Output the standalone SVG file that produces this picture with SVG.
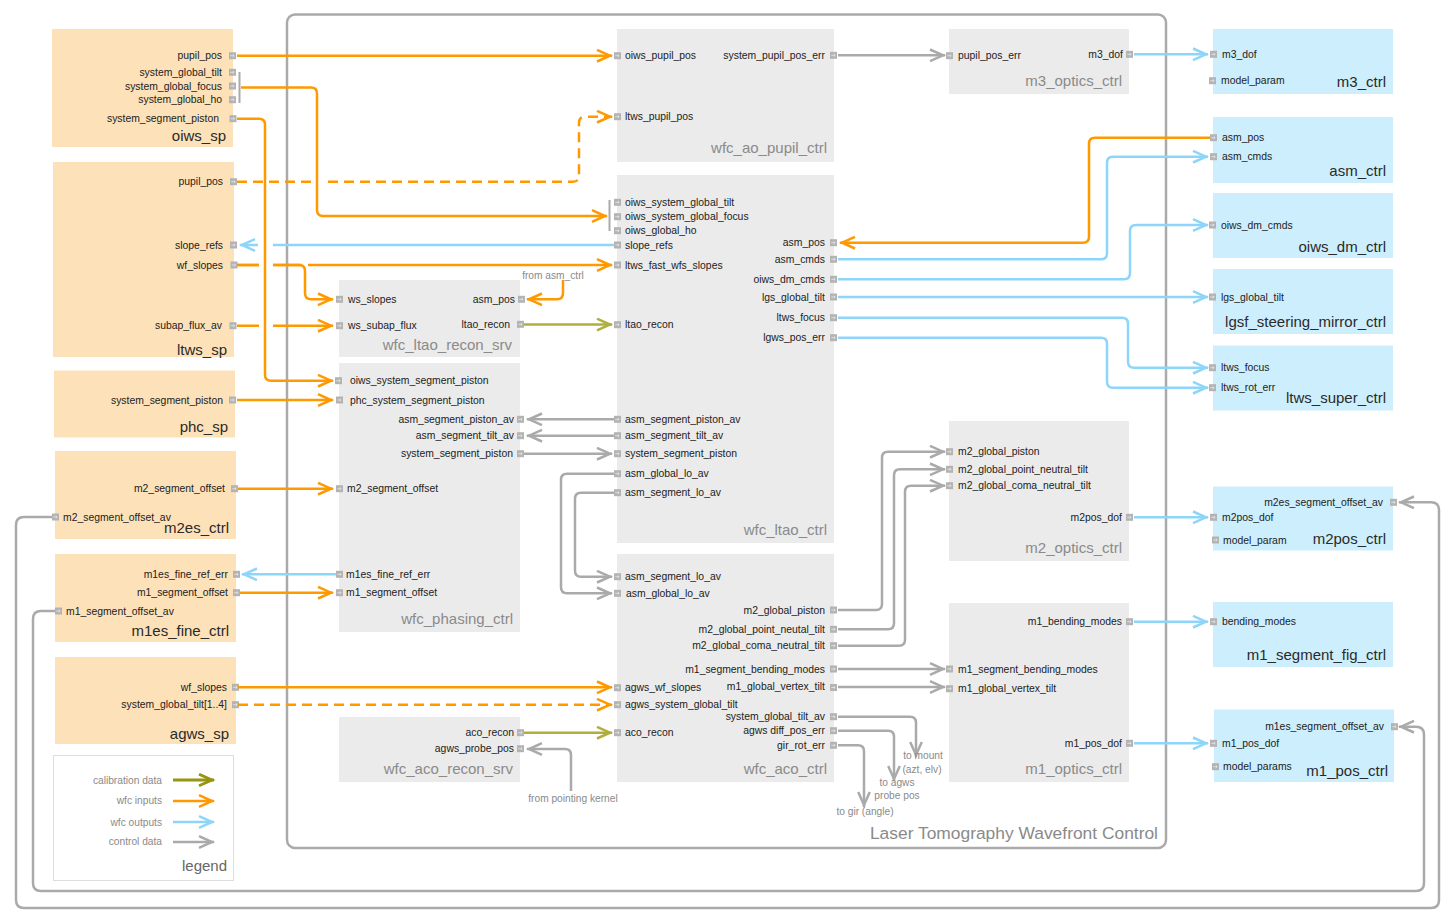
<svg xmlns="http://www.w3.org/2000/svg" xmlns:xlink="http://www.w3.org/1999/xlink" width="1454" height="923" viewBox="0 0 1454 923">
<style>
  text { font-family: "Liberation Sans", Arial, Helvetica, sans-serif; }
  .lbl { font-size: 10.4px; fill: #222; }
  .r { text-anchor: end; }
  .m { text-anchor: middle; }
  .ann { font-size: 10.2px; fill: #8a8a8a; }
  .ttl { font-size: 15px; fill: #2a2a2a; text-anchor: end; }
  .gttl { font-size: 15px; fill: #8a8a8a; text-anchor: end; }
  .src { fill: #fde1b8; }
  .ext { fill: #cdeefc; }
  .int { fill: #ebebeb; }
  .e { fill: none; stroke-width: 2.5; }
  .o { stroke: #ff9900; marker-end: url(#ao); }
  .b { stroke: #8dd6fa; marker-end: url(#ab); }
  .g { stroke: #aaaaaa; marker-end: url(#ag); }
  .v { stroke: #b0ae3c; marker-end: url(#av); }
  .d { stroke-dasharray: 10 6; }
</style>
<defs>
  <marker id="ao" markerUnits="userSpaceOnUse" markerWidth="20" markerHeight="16" refX="17" refY="7" orient="auto"><path d="M2,1.2 L15,7 L2,12.8" fill="none" stroke="#ff9900" stroke-width="2.5"/></marker>
  <marker id="ab" markerUnits="userSpaceOnUse" markerWidth="20" markerHeight="16" refX="17" refY="7" orient="auto"><path d="M2,1.2 L15,7 L2,12.8" fill="none" stroke="#8dd6fa" stroke-width="2.5"/></marker>
  <marker id="ag" markerUnits="userSpaceOnUse" markerWidth="20" markerHeight="16" refX="17" refY="7" orient="auto"><path d="M2,1.2 L15,7 L2,12.8" fill="none" stroke="#aaaaaa" stroke-width="2.5"/></marker>
  <marker id="av" markerUnits="userSpaceOnUse" markerWidth="20" markerHeight="16" refX="17" refY="7" orient="auto"><path d="M2,1.2 L15,7 L2,12.8" fill="none" stroke="#b0ae3c" stroke-width="2.5"/></marker>
  <marker id="avd" markerUnits="userSpaceOnUse" markerWidth="20" markerHeight="16" refX="17" refY="7" orient="auto"><path d="M2,1.2 L15,7 L2,12.8" fill="none" stroke="#95950f" stroke-width="2.8"/></marker>
  <g id="pt">
    <rect width="7" height="7" fill="#b3b3b3"/>
    <path d="M1.3,3.5 H5 M3.8,2.2 L5.2,3.5 L3.8,4.8" fill="none" stroke="#e4e4e4" stroke-width="0.9"/>
  </g>
</defs>

<rect width="1454" height="923" fill="#ffffff"/>

<!-- enclosing subsystem frame -->
<g id="ltwfc">
  <rect x="287" y="14.5" width="879" height="833.5" rx="8" fill="none" stroke="#aaaaaa" stroke-width="2.5"/>
  <text x="1158" y="839" font-size="17.4" fill="#8a8a8a" text-anchor="end">Laser Tomography Wavefront Control</text>
</g>

<!-- source nodes (left) -->
<g id="oiws_sp">
  <rect class="src" x="52" y="29" width="181" height="118"/>
  <text class="lbl r" x="222" y="59.3">pupil_pos</text>
  <text class="lbl r" x="222" y="75.9">system_global_tilt</text>
  <text class="lbl r" x="222" y="89.6">system_global_focus</text>
  <text class="lbl r" x="222" y="103.3">system_global_ho</text>
  <text class="lbl r" x="219" y="122.3">system_segment_piston</text>
  <use href="#pt" x="229" y="52.2"/><use href="#pt" x="229" y="68.8"/><use href="#pt" x="229" y="82.5"/><use href="#pt" x="229" y="96.2"/><use href="#pt" x="229.5" y="115.2"/>
  <line x1="239.5" y1="72" x2="239.5" y2="103" stroke="#aaaaaa" stroke-width="2"/>
  <text class="ttl" x="226" y="141">oiws_sp</text>
</g>
<g id="ltws_sp">
  <rect class="src" x="53" y="162" width="181" height="195"/>
  <text class="lbl r" x="223" y="185.3">pupil_pos</text>
  <text class="lbl r" x="223" y="248.6">slope_refs</text>
  <text class="lbl r" x="223" y="268.6">wf_slopes</text>
  <text class="lbl r" x="222" y="329.3">subap_flux_av</text>
  <use href="#pt" x="230" y="178.2"/><use href="#pt" x="230" y="241.5"/><use href="#pt" x="230.5" y="261.5"/><use href="#pt" x="229.5" y="322.2"/>
  <text class="ttl" x="227" y="355">ltws_sp</text>
</g>
<g id="phc_sp">
  <rect class="src" x="54" y="370.5" width="181" height="67"/>
  <text class="lbl r" x="223" y="403.6">system_segment_piston</text>
  <use href="#pt" x="229" y="396.5"/>
  <text class="ttl" x="228" y="432">phc_sp</text>
</g>
<g id="m2es_ctrl">
  <rect class="src" x="55" y="451" width="181" height="88"/>
  <text class="lbl r" x="225" y="492.3">m2_segment_offset</text>
  <use href="#pt" x="231" y="485.2"/>
  <use href="#pt" x="52" y="513.5"/>
  <text class="lbl" x="63" y="520.6">m2_segment_offset_av</text>
  <text class="ttl" x="229" y="533">m2es_ctrl</text>
</g>
<g id="m1es_fine_ctrl">
  <rect class="src" x="55" y="554" width="181" height="88"/>
  <text class="lbl r" x="228" y="577.9">m1es_fine_ref_err</text>
  <text class="lbl r" x="228" y="596.3">m1_segment_offset</text>
  <use href="#pt" x="233" y="570.8"/><use href="#pt" x="233" y="589.2"/>
  <use href="#pt" x="55" y="607.5"/>
  <text class="lbl" x="66" y="614.6">m1_segment_offset_av</text>
  <text class="ttl" x="229" y="636">m1es_fine_ctrl</text>
</g>
<g id="agws_sp">
  <rect class="src" x="55" y="657" width="181" height="87"/>
  <text class="lbl r" x="227" y="690.9">wf_slopes</text>
  <text class="lbl r" x="227" y="708.3">system_global_tilt[1..4]</text>
  <use href="#pt" x="232" y="683.8"/><use href="#pt" x="232" y="701.2"/>
  <text class="ttl" x="229" y="739">agws_sp</text>
</g>

<!-- legend -->
<g id="legend">
  <rect x="53.5" y="755.5" width="180" height="125" fill="#ffffff" stroke="#dddddd" stroke-width="1"/>
  <text class="ann r" x="162" y="783.6">calibration data</text>
  <text class="ann r" x="162" y="804.3">wfc inputs</text>
  <text class="ann r" x="162" y="825.6">wfc outputs</text>
  <text class="ann r" x="162" y="845.3">control data</text>
  <path d="M173,780 H214" fill="none" stroke="#95950f" stroke-width="2.8" marker-end="url(#avd)"/>
  <path class="e o" d="M173,801 H214"/>
  <path class="e b" d="M173,822 H214"/>
  <path class="e g" d="M173,842 H214"/>
  <text x="227" y="871" font-size="15" fill="#666666" text-anchor="end">legend</text>
</g>

<!-- internal components -->
<g id="wfc_ao_pupil_ctrl">
  <rect class="int" x="617" y="29" width="217" height="133"/>
  <use href="#pt" x="614" y="52.2"/><text class="lbl" x="625" y="59.3">oiws_pupil_pos</text>
  <use href="#pt" x="614" y="113.2"/><text class="lbl" x="625" y="120.3">ltws_pupil_pos</text>
  <use href="#pt" x="830" y="51.8"/><text class="lbl r" x="825" y="58.9">system_pupil_pos_err</text>
  <text class="gttl" x="827" y="153">wfc_ao_pupil_ctrl</text>
</g>
<g id="m3_optics_ctrl">
  <rect class="int" x="949" y="29" width="180" height="65"/>
  <use href="#pt" x="946" y="52.2"/><text class="lbl" x="958" y="59.3">pupil_pos_err</text>
  <use href="#pt" x="1126" y="50.8"/><text class="lbl r" x="1123" y="57.9">m3_dof</text>
  <text class="gttl" x="1122" y="86">m3_optics_ctrl</text>
</g>
<g id="wfc_ltao_ctrl">
  <rect class="int" x="617" y="175" width="217" height="368"/>
  <line x1="609.5" y1="200" x2="609.5" y2="231" stroke="#aaaaaa" stroke-width="2"/>
  <use href="#pt" x="614" y="198.8"/><text class="lbl" x="625" y="205.9">oiws_system_global_tilt</text>
  <use href="#pt" x="614" y="213.2"/><text class="lbl" x="625" y="220.3">oiws_system_global_focus</text>
  <use href="#pt" x="614" y="227.2"/><text class="lbl" x="625" y="234.3">oiws_global_ho</text>
  <use href="#pt" x="614" y="241.5"/><text class="lbl" x="625" y="248.6">slope_refs</text>
  <use href="#pt" x="614" y="261.5"/><text class="lbl" x="625" y="268.6">ltws_fast_wfs_slopes</text>
  <use href="#pt" x="614" y="321.2"/><text class="lbl" x="625" y="328.3">ltao_recon</text>
  <use href="#pt" x="614" y="415.8"/><text class="lbl" x="625" y="422.9">asm_segment_piston_av</text>
  <use href="#pt" x="614" y="432.2"/><text class="lbl" x="625" y="439.3">asm_segment_tilt_av</text>
  <use href="#pt" x="614" y="450.2"/><text class="lbl" x="625" y="457.3">system_segment_piston</text>
  <use href="#pt" x="614" y="470.2"/><text class="lbl" x="625" y="477.3">asm_global_lo_av</text>
  <use href="#pt" x="614" y="489.2"/><text class="lbl" x="625" y="496.3">asm_segment_lo_av</text>
  <use href="#pt" x="830" y="239.2"/><text class="lbl r" x="825" y="246.3">asm_pos</text>
  <use href="#pt" x="830" y="255.8"/><text class="lbl r" x="825" y="262.9">asm_cmds</text>
  <use href="#pt" x="830" y="275.8"/><text class="lbl r" x="825" y="282.9">oiws_dm_cmds</text>
  <use href="#pt" x="830" y="293.5"/><text class="lbl r" x="825" y="300.6">lgs_global_tilt</text>
  <use href="#pt" x="830" y="314.2"/><text class="lbl r" x="825" y="321.3">ltws_focus</text>
  <use href="#pt" x="830" y="334.2"/><text class="lbl r" x="825" y="341.3">lgws_pos_err</text>
  <text class="gttl" x="827" y="535">wfc_ltao_ctrl</text>
</g>
<g id="wfc_aco_ctrl">
  <rect class="int" x="617" y="554" width="217" height="228"/>
  <use href="#pt" x="614" y="573.2"/><text class="lbl" x="625" y="580.3">asm_segment_lo_av</text>
  <use href="#pt" x="614" y="589.8"/><text class="lbl" x="626" y="596.9">asm_global_lo_av</text>
  <use href="#pt" x="614" y="684.2"/><text class="lbl" x="625" y="691.3">agws_wf_slopes</text>
  <use href="#pt" x="614" y="701.2"/><text class="lbl" x="625" y="708.3">agws_system_global_tilt</text>
  <use href="#pt" x="614" y="729.2"/><text class="lbl" x="625" y="736.3">aco_recon</text>
  <use href="#pt" x="830" y="606.5"/><text class="lbl r" x="825" y="613.6">m2_global_piston</text>
  <use href="#pt" x="830" y="625.8"/><text class="lbl r" x="825" y="632.9">m2_global_point_neutal_tilt</text>
  <use href="#pt" x="830" y="642.2"/><text class="lbl r" x="825" y="649.3">m2_global_coma_neutral_tilt</text>
  <use href="#pt" x="830" y="665.5"/><text class="lbl r" x="825" y="672.6">m1_segment_bending_modes</text>
  <use href="#pt" x="830" y="684"/><text class="lbl r" x="825" y="689.6">m1_global_vertex_tilt</text>
  <use href="#pt" x="830" y="713.2"/><text class="lbl r" x="825" y="720.3">system_global_tilt_av</text>
  <use href="#pt" x="830" y="727.2"/><text class="lbl r" x="825" y="734.3">agws diff_pos_err</text>
  <use href="#pt" x="830" y="741.8"/><text class="lbl r" x="825" y="748.9">gir_rot_err</text>
  <text class="gttl" x="827" y="774">wfc_aco_ctrl</text>
</g>
<g id="wfc_ltao_recon_srv">
  <rect class="int" x="339" y="280" width="181" height="77"/>
  <use href="#pt" x="336" y="295.8"/><text class="lbl" x="348" y="302.9">ws_slopes</text>
  <use href="#pt" x="336" y="322.2"/><text class="lbl" x="348" y="329.3">ws_subap_flux</text>
  <use href="#pt" x="518" y="295.8"/><text class="lbl r" x="515" y="302.9">asm_pos</text>
  <use href="#pt" x="517" y="320.8"/><text class="lbl r" x="510" y="327.9">ltao_recon</text>
  <text class="gttl" x="512" y="349.5">wfc_ltao_recon_srv</text>
</g>
<g id="wfc_phasing_ctrl">
  <rect class="int" x="339" y="363" width="181" height="269"/>
  <use href="#pt" x="335" y="377.2"/><text class="lbl" x="350" y="384.3">oiws_system_segment_piston</text>
  <use href="#pt" x="336" y="396.5"/><text class="lbl" x="350" y="403.6">phc_system_segment_piston</text>
  <use href="#pt" x="336" y="485.2"/><text class="lbl" x="347" y="492.3">m2_segment_offset</text>
  <use href="#pt" x="336" y="570.8"/><text class="lbl" x="346" y="577.9">m1es_fine_ref_err</text>
  <use href="#pt" x="336" y="589.2"/><text class="lbl" x="346" y="596.3">m1_segment_offset</text>
  <use href="#pt" x="517" y="415.8"/><text class="lbl r" x="514" y="422.9">asm_segment_piston_av</text>
  <use href="#pt" x="517" y="432.2"/><text class="lbl r" x="514" y="439.3">asm_segment_tilt_av</text>
  <use href="#pt" x="517" y="450.2"/><text class="lbl r" x="513" y="457.3">system_segment_piston</text>
  <text class="gttl" x="513" y="624">wfc_phasing_ctrl</text>
</g>
<g id="wfc_aco_recon_srv">
  <rect class="int" x="339" y="717" width="181" height="65"/>
  <use href="#pt" x="517" y="729.2"/><text class="lbl r" x="514" y="736.3">aco_recon</text>
  <use href="#pt" x="517" y="745.2"/><text class="lbl r" x="514" y="752.3">agws_probe_pos</text>
  <text class="gttl" x="513" y="774">wfc_aco_recon_srv</text>
</g>
<g id="m2_optics_ctrl">
  <rect class="int" x="949" y="421" width="180" height="140"/>
  <use href="#pt" x="946" y="448.2"/><text class="lbl" x="958" y="455.3">m2_global_piston</text>
  <use href="#pt" x="946" y="465.8"/><text class="lbl" x="958" y="472.9">m2_global_point_neutral_tilt</text>
  <use href="#pt" x="946" y="482.2"/><text class="lbl" x="958" y="489.3">m2_global_coma_neutral_tilt</text>
  <use href="#pt" x="1126" y="513.8"/><text class="lbl r" x="1122" y="520.9">m2pos_dof</text>
  <text class="gttl" x="1122" y="553">m2_optics_ctrl</text>
</g>
<g id="m1_optics_ctrl">
  <rect class="int" x="949" y="603" width="180" height="179"/>
  <use href="#pt" x="1126" y="618.2"/><text class="lbl r" x="1122" y="625.3">m1_bending_modes</text>
  <use href="#pt" x="946" y="665.5"/><text class="lbl" x="958" y="672.6">m1_segment_bending_modes</text>
  <use href="#pt" x="946" y="685.2"/><text class="lbl" x="958" y="692.3">m1_global_vertex_tilt</text>
  <use href="#pt" x="1126" y="739.8"/><text class="lbl r" x="1122" y="746.9">m1_pos_dof</text>
  <text class="gttl" x="1122" y="774">m1_optics_ctrl</text>
</g>

<!-- external controllers (right) -->
<g id="m3_ctrl">
  <rect class="ext" x="1213" y="29" width="180" height="65"/>
  <use href="#pt" x="1210" y="50.8"/><text class="lbl" x="1222" y="57.9">m3_dof</text>
  <use href="#pt" x="1209" y="77.2"/><text class="lbl" x="1221" y="84.3">model_param</text>
  <text class="ttl" x="1386" y="87">m3_ctrl</text>
</g>
<g id="asm_ctrl">
  <rect class="ext" x="1213" y="117" width="180" height="66"/>
  <use href="#pt" x="1210" y="134.2"/><text class="lbl" x="1222" y="141.3">asm_pos</text>
  <use href="#pt" x="1210" y="153.2"/><text class="lbl" x="1222" y="160.3">asm_cmds</text>
  <text class="ttl" x="1386" y="176">asm_ctrl</text>
</g>
<g id="oiws_dm_ctrl">
  <rect class="ext" x="1213" y="193" width="180" height="65"/>
  <use href="#pt" x="1209" y="221.5"/><text class="lbl" x="1221" y="228.6">oiws_dm_cmds</text>
  <text class="ttl" x="1386" y="252">oiws_dm_ctrl</text>
</g>
<g id="lgsf_steering_mirror_ctrl">
  <rect class="ext" x="1213" y="269" width="180" height="65"/>
  <use href="#pt" x="1209" y="293.5"/><text class="lbl" x="1221" y="300.6">lgs_global_tilt</text>
  <text class="ttl" x="1386" y="327">lgsf_steering_mirror_ctrl</text>
</g>
<g id="ltws_super_ctrl">
  <rect class="ext" x="1213" y="345.5" width="180" height="65"/>
  <use href="#pt" x="1209" y="364.2"/><text class="lbl" x="1221" y="371.3">ltws_focus</text>
  <use href="#pt" x="1209" y="384.2"/><text class="lbl" x="1221" y="391.3">ltws_rot_err</text>
  <text class="ttl" x="1386" y="403">ltws_super_ctrl</text>
</g>
<g id="m2pos_ctrl">
  <rect class="ext" x="1213" y="486.5" width="180" height="64"/>
  <use href="#pt" x="1390" y="498.8"/><text class="lbl r" x="1383" y="505.9">m2es_segment_offset_av</text>
  <use href="#pt" x="1210" y="513.8"/><text class="lbl" x="1222" y="520.9">m2pos_dof</text>
  <use href="#pt" x="1212" y="536.5"/><text class="lbl" x="1223" y="543.6">model_param</text>
  <text class="ttl" x="1386" y="544">m2pos_ctrl</text>
</g>
<g id="m1_segment_fig_ctrl">
  <rect class="ext" x="1213" y="602" width="180" height="65"/>
  <use href="#pt" x="1210" y="618.2"/><text class="lbl" x="1222" y="625.3">bending_modes</text>
  <text class="ttl" x="1386" y="660">m1_segment_fig_ctrl</text>
</g>
<g id="m1_pos_ctrl">
  <rect class="ext" x="1214" y="709.5" width="180" height="72.5"/>
  <use href="#pt" x="1391" y="723.2"/><text class="lbl r" x="1384" y="730.3">m1es_segment_offset_av</text>
  <use href="#pt" x="1210" y="739.8"/><text class="lbl" x="1222" y="746.9">m1_pos_dof</text>
  <use href="#pt" x="1212" y="763.2"/><text class="lbl" x="1223" y="770.3">model_params</text>
  <text class="ttl" x="1388" y="776">m1_pos_ctrl</text>
</g>

<!-- connectors -->
<g id="connectors">
  <!-- wfc inputs -->
  <path class="e o" d="M237,55.7 H612"/>
  <path class="e o" d="M241,87.5 H311 Q317,87.5 317,93.5 V210 Q317,216 323,216 H607"/>
  <path class="e o" d="M237,118.7 H259 Q265,118.7 265,124.7 V374.7 Q265,380.7 271,380.7 H333"/>
  <path class="e o d" d="M237,181.7 H311 M328,181.7 H573 Q579,181.7 579,175.7 V122.7 Q579,116.7 585,116.7 H612"/>
  <path class="e o" d="M237,265 H259 M273,265 H299 Q305,265 305,271 V293.3 Q305,299.3 311,299.3 H333"/>
  <path class="e o" d="M237,265 H259 M273,265 H302 M308,265 H612"/>
  <path class="e o" d="M237,325.7 H259 M273,325.7 H333"/>
  <path class="e o" d="M237,400 H333"/>
  <path class="e o" d="M238,488.7 H333"/>
  <path class="e o" d="M240,592.7 H333"/>
  <path class="e o" d="M238,687.3 H612"/>
  <path class="e o d" d="M238,704.7 H612"/>
  <path class="e o" d="M1210,137.7 H1095 Q1089,137.7 1089,143.7 V236.7 Q1089,242.7 1083,242.7 H840"/>
  <path class="e o" d="M563,280 V293.3 Q563,299.3 557,299.3 H527"/>
  <text class="ann m" x="553" y="278.6">from asm_ctrl</text>

  <!-- wfc outputs -->
  <path class="e b" d="M614,245 H273 M258,245 H240"/>
  <path class="e b" d="M336,574.3 H242"/>
  <path class="e b" d="M1134,54.3 H1208"/>
  <path class="e b" d="M838,259.3 H1101 Q1107,259.3 1107,253.3 V162.7 Q1107,156.7 1113,156.7 H1208"/>
  <path class="e b" d="M838,279.3 H1124 Q1130,279.3 1130,273.3 V231 Q1130,225 1136,225 H1208"/>
  <path class="e b" d="M838,297 H1208"/>
  <path class="e b" d="M838,317.7 H1122 Q1128,317.7 1128,323.7 V361.7 Q1128,367.7 1134,367.7 H1208"/>
  <path class="e b" d="M838,337.7 H1101 Q1107,337.7 1107,343.7 V381.7 Q1107,387.7 1113,387.7 H1208"/>
  <path class="e b" d="M1134,517.3 H1208"/>
  <path class="e b" d="M1134,621.7 H1208"/>
  <path class="e b" d="M1134,743.3 H1208"/>

  <!-- calibration data -->
  <path class="e v" d="M524,324.5 H612"/>
  <path class="e v" d="M524,732.7 H612"/>

  <!-- control data -->
  <path class="e g" d="M838,55.3 H945"/>
  <path class="e g" d="M614,419.3 H527"/>
  <path class="e g" d="M614,435.7 H527"/>
  <path class="e g" d="M524,453.7 H612"/>
  <path class="e g" d="M614,473.7 H567 Q561,473.7 561,479.7 V587.3 Q561,593.3 567,593.3 H612"/>
  <path class="e g" d="M614,492.7 H581 Q575,492.7 575,498.7 V570.7 Q575,576.7 581,576.7 H612"/>
  <path class="e g" d="M838,610 H876 Q882,610 882,604 V457.7 Q882,451.7 888,451.7 H945"/>
  <path class="e g" d="M838,629.3 H888 Q894,629.3 894,623.3 V475.3 Q894,469.3 900,469.3 H945"/>
  <path class="e g" d="M838,645.7 H899 Q905,645.7 905,639.7 V491.7 Q905,485.7 911,485.7 H945"/>
  <path class="e g" d="M838,669 H945"/>
  <path class="e g" d="M838,687 H945"/>
  <path class="e g" d="M838,716.7 H910 Q916,716.7 916,722.7 V757"/>
  <path class="e g" d="M838,730.7 H888 Q894,730.7 894,736.7 V781"/>
  <path class="e g" d="M838,745.3 H858 Q864,745.3 864,751.3 V807"/>
  <path class="e g" d="M571,791 V755 Q571,749 565,749 H527"/>
  <path class="e g" d="M52,517 H24 Q16,517 16,525 V900 Q16,908 24,908 H1431 Q1439,908 1439,900 V510.3 Q1439,502.3 1431,502.3 H1399"/>
  <path class="e g" d="M55,611 H41 Q33,611 33,619 V883 Q33,891 41,891 H1416 Q1424,891 1424,883 V734.7 Q1424,726.7 1416,726.7 H1399"/>
  <text class="ann m" x="923" y="759.3">to mount</text>
  <text class="ann m" x="922" y="773">(azt, elv)</text>
  <text class="ann m" x="897" y="786.3">to agws</text>
  <text class="ann m" x="897" y="799.3">probe pos</text>
  <text class="ann m" x="865" y="815.3">to gir (angle)</text>
  <text class="ann m" x="573" y="802.3">from pointing kernel</text>
</g>
</svg>
